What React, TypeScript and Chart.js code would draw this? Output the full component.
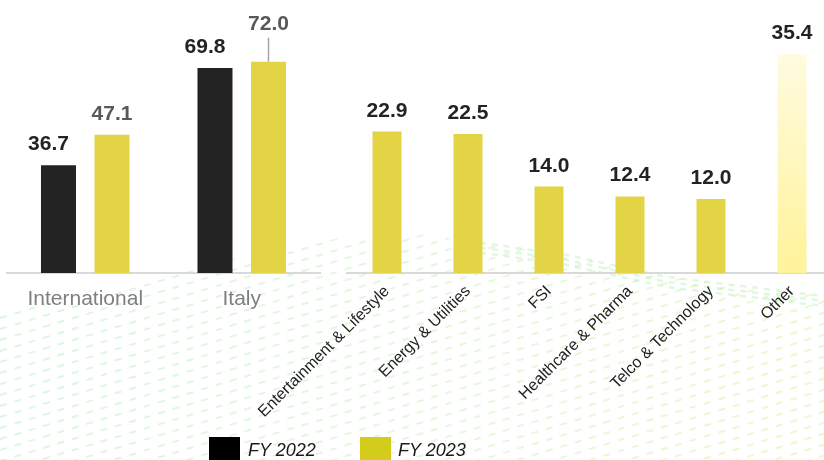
import React, { useEffect, useRef } from 'react';
import { Chart, registerables } from 'chart.js';

Chart.register(...registerables);

// ---- data ----
const regionLabels = ['International', 'Italy'];
const fy2022Region = [36.7, 69.8];
const fy2023Region = [47.1, 72.0];

const sectorLabels = [
  'Entertainment & Lifestyle',
  'Energy & Utilities',
  'FSI',
  'Healthcare & Pharma',
  'Telco & Technology',
  'Other',
];
const fy2023Sector = [22.9, 22.5, 14.0, 12.4, 12.0, 35.4];

const seriesNames = ['FY 2022', 'FY 2023'];

// ---- styles ----
const FONT = "'Liberation Sans', Arial, Helvetica, sans-serif";
const DARK = '#232323';
const YELLOW = '#e2d444';
const LEGEND_YELLOW = '#d4cc1c';

const valueLabels = {
  id: 'valueLabels',
  afterDatasetsDraw(chart: any, _args: any, opts: any) {
    const ctx = chart.ctx;
    ctx.save();
    ctx.font = `bold 21px ${FONT}`;
    ctx.textAlign = 'center';
    ctx.textBaseline = 'alphabetic';
    chart.data.datasets.forEach((ds: any, di: number) => {
      const meta = chart.getDatasetMeta(di);
      const st = (opts.styles && opts.styles[di]) || {};
      meta.data.forEach((bar: any, i: number) => {
        const v = ds.data[i];
        const lift = (st.lift && st.lift[i]) || 0;
        const x = bar.x + (st.dx || 0);
        const y = bar.y - 15 - lift;
        if (lift) {
          ctx.strokeStyle = '#a6a6a6';
          ctx.lineWidth = 1.5;
          ctx.beginPath();
          ctx.moveTo(bar.x, y + 8);
          ctx.lineTo(bar.x, bar.y);
          ctx.stroke();
        }
        ctx.fillStyle = st.color || DARK;
        ctx.fillText(Number(v).toFixed(1), x, y);
      });
    });
    ctx.restore();
  },
};

function crest(x: number): number {
  const pts = [
    [-10, 312],
    [120, 285],
    [250, 255],
    [367, 233],
    [420, 234],
    [567, 255],
    [667, 277],
    [840, 298],
  ];
  for (let i = 0; i < pts.length - 1; i++) {
    const [x0, y0] = pts[i];
    const [x1, y1] = pts[i + 1];
    if (x >= x0 && x <= x1) return y0 + ((y1 - y0) * (x - x0)) / (x1 - x0);
  }
  return 300;
}

function drawBackground(canvas: HTMLCanvasElement) {
  const ctx = canvas.getContext('2d');
  if (!ctx) return;
  const W = canvas.width;
  const H = canvas.height;
  ctx.clearRect(0, 0, W, H);
  ctx.save();
  ctx.beginPath();
  ctx.moveTo(0, H);
  for (let x = 0; x <= W; x += 4) ctx.lineTo(x, crest(x));
  ctx.lineTo(W, H);
  ctx.closePath();
  ctx.clip();
  const grad = ctx.createLinearGradient(0, 250, W, H);
  grad.addColorStop(0, 'rgba(150, 230, 170, 0.35)');
  grad.addColorStop(0.6, 'rgba(175, 232, 150, 0.32)');
  grad.addColorStop(1, 'rgba(215, 235, 120, 0.38)');
  ctx.strokeStyle = grad;
  ctx.lineWidth = 2;
  ctx.setLineDash([7, 8]);
  for (let c = 230; c < 760; c += 11) {
    ctx.beginPath();
    ctx.moveTo(0, c);
    ctx.lineTo(W, c - 0.3 * W);
    ctx.stroke();
  }
  ctx.restore();
  ctx.save();
  ctx.strokeStyle = 'rgba(130, 228, 140, 0.25)';
  ctx.lineWidth = 2.5;
  ctx.setLineDash([6, 6]);
  for (let j = 0; j < 3; j++) {
    ctx.beginPath();
    for (let x = 480; x <= W; x += 4) {
      const y = crest(x) + j * 5;
      if (x === 480) ctx.moveTo(x, y);
      else ctx.lineTo(x, y);
    }
    ctx.stroke();
  }
  ctx.restore();
}

export default function App() {
  const bgRef = useRef<HTMLCanvasElement>(null);
  const leftRef = useRef<HTMLCanvasElement>(null);
  const rightRef = useRef<HTMLCanvasElement>(null);

  useEffect(() => {
    if (bgRef.current) drawBackground(bgRef.current);

    const left = new Chart(leftRef.current as HTMLCanvasElement, {
      type: 'bar',
      data: {
        labels: regionLabels,
        datasets: [
          {
            label: seriesNames[0],
            data: fy2022Region,
            backgroundColor: DARK,
            categoryPercentage: 0.684,
            barPercentage: 0.654,
          },
          {
            label: seriesNames[1],
            data: fy2023Region,
            backgroundColor: YELLOW,
            categoryPercentage: 0.684,
            barPercentage: 0.654,
          },
        ],
      },
      options: {
        responsive: false,
        animation: false,
        devicePixelRatio: 1,
        layout: { padding: { left: 7, right: 20, top: 0, bottom: 0 } },
        plugins: {
          legend: { display: false },
          tooltip: { enabled: false },
          valueLabels: {
            styles: [
              { color: DARK, dx: -10 },
              { color: '#595959', lift: [0, 17] },
            ],
          },
        } as any,
        scales: {
          x: {
            grid: { display: false, drawTicks: false },
            border: { display: true, color: '#d9d9d9', width: 2 },
            ticks: {
              color: '#7f7f7f',
              font: { family: FONT, size: 21 },
              padding: 14,
              maxRotation: 0,
            },
            afterFit: (scale: any) => {
              scale.height = 187;
            },
          },
          y: {
            display: false,
            min: 0,
            max: 93,
          },
        },
      },
      plugins: [valueLabels],
    });

    const right = new Chart(rightRef.current as HTMLCanvasElement, {
      type: 'bar',
      data: {
        labels: sectorLabels,
        datasets: [
          {
            label: seriesNames[1],
            data: fy2023Sector,
            backgroundColor: (c: any) => {
              if (c.dataIndex !== sectorLabels.length - 1) return YELLOW;
              const chart = c.chart;
              const area = chart.chartArea;
              if (!area) return '#fff5a0';
              const top = chart.scales.y.getPixelForValue(fy2023Sector[c.dataIndex]);
              const g = chart.ctx.createLinearGradient(0, top, 0, area.bottom);
              g.addColorStop(0, '#fffbdf');
              g.addColorStop(1, '#fff39a');
              return g;
            },
            categoryPercentage: 1,
            barPercentage: 0.358,
          },
        ],
      },
      options: {
        responsive: false,
        animation: false,
        devicePixelRatio: 1,
        layout: { padding: { left: 146.5, right: 7.5, top: 0, bottom: 0 } },
        plugins: {
          legend: { display: false },
          tooltip: { enabled: false },
          valueLabels: { styles: [{ color: DARK }] },
        } as any,
        scales: {
          x: {
            grid: { display: false, drawTicks: false },
            border: { display: true, color: '#d9d9d9', width: 2 },
            ticks: {
              color: '#1f1f1f',
              font: { family: FONT, size: 16 },
              padding: 9,
              minRotation: 45,
              maxRotation: 45,
              autoSkip: false,
            },
            afterFit: (scale: any) => {
              scale.height = 187;
            },
          },
          y: {
            display: false,
            min: 0,
            max: 44.2,
          },
        },
      },
      plugins: [valueLabels],
    });

    return () => {
      left.destroy();
      right.destroy();
    };
  }, []);

  const legendText: React.CSSProperties = {
    position: 'absolute',
    top: 441,
    fontFamily: FONT,
    fontStyle: 'italic',
    fontSize: 18,
    lineHeight: '18px',
    color: '#1a1a1a',
    whiteSpace: 'nowrap',
  };

  return (
    <div
      style={{
        position: 'absolute',
        left: 0,
        top: 0,
        width: 824,
        height: 460,
        overflow: 'hidden',
        background: '#ffffff',
      }}
    >
      <canvas ref={bgRef} width={824} height={460} style={{ position: 'absolute', left: 0, top: 0 }} />
      <canvas ref={leftRef} width={340} height={460} style={{ position: 'absolute', left: 0, top: 0 }} />
      <canvas ref={rightRef} width={640} height={460} style={{ position: 'absolute', left: 200, top: 0 }} />
      <div style={{ position: 'absolute', left: 209, top: 437, width: 31, height: 31, background: '#000000' }} />
      <div style={{ ...legendText, left: 248 }}>{seriesNames[0]}</div>
      <div style={{ position: 'absolute', left: 360, top: 437, width: 31, height: 31, background: LEGEND_YELLOW }} />
      <div style={{ ...legendText, left: 398 }}>{seriesNames[1]}</div>
    </div>
  );
}
